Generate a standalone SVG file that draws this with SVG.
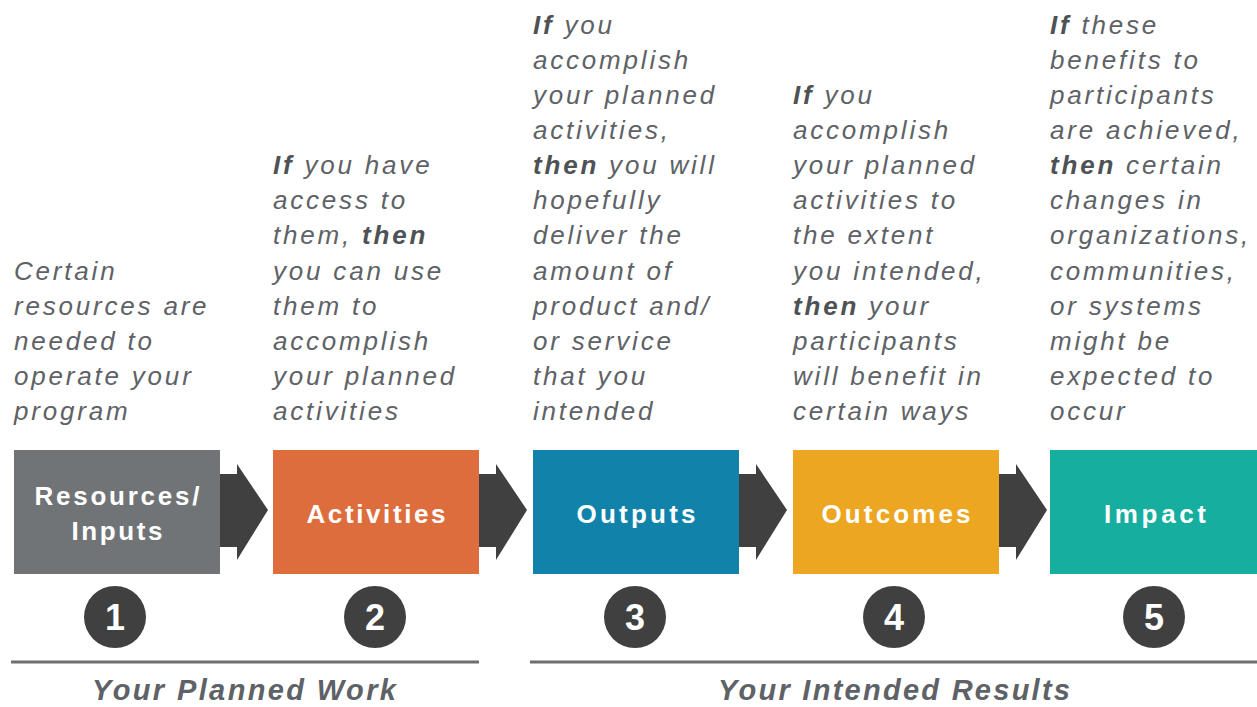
<svg xmlns="http://www.w3.org/2000/svg" width="1257" height="707" viewBox="0 0 1257 707">
<style>
.desc{font-family:"Liberation Sans",Arial,sans-serif;font-style:italic;font-size:26px;letter-spacing:2.8px;fill:#5e6266}
.b{font-weight:bold;fill:#4e5255}
.lbl{font-family:"Liberation Sans",Arial,sans-serif;font-weight:bold;font-size:26px;fill:#ffffff}
.num{font-family:"Liberation Sans",Arial,sans-serif;font-weight:bold;font-size:36px;fill:#ffffff}
.grp{font-family:"Liberation Sans",Arial,sans-serif;font-weight:bold;font-style:italic;font-size:29px;fill:#5e6266}
.circ{fill:#404040}
.arrow{fill:#404040}
.rule{stroke:#6d6e70;stroke-width:3}
</style>
<defs>
<path id="arr" d="M0,-36 H17 V-46 L48,0 L17,50 V37 H0 Z"/>
</defs>
<rect width="1257" height="707" fill="#ffffff"/>

<g id="connectors">
<use href="#arr" class="arrow" x="220" y="510"/>
<use href="#arr" class="arrow" x="479" y="510"/>
<use href="#arr" class="arrow" x="739" y="510"/>
<use href="#arr" class="arrow" x="999" y="510"/>
</g>

<g id="node1">
<rect x="14" y="450" width="206" height="124" fill="#717477"/>
<text class="lbl" text-anchor="middle" x="117" y="505" textLength="165" lengthAdjust="spacing">Resources/</text>
<text class="lbl" text-anchor="middle" x="117" y="540" textLength="91" lengthAdjust="spacing">Inputs</text>
<circle class="circ" cx="115" cy="617" r="31"/>
<text class="num" text-anchor="middle" x="115" y="630">1</text>
<text class="desc" x="14"><tspan x="14" y="280">Certain</tspan><tspan x="14" y="315">resources are</tspan><tspan x="14" y="350">needed to</tspan><tspan x="14" y="385">operate your</tspan><tspan x="14" y="420">program</tspan></text>
</g>

<g id="node2">
<rect x="273" y="450" width="206" height="124" fill="#de6d3d"/>
<text class="lbl" text-anchor="middle" x="376" y="523" textLength="139" lengthAdjust="spacing">Activities</text>
<circle class="circ" cx="375" cy="617" r="31"/>
<text class="num" text-anchor="middle" x="375" y="630">2</text>
<text class="desc"><tspan x="273" y="174"><tspan class="b">If</tspan> you have</tspan><tspan x="273" y="209">access to</tspan><tspan x="273" y="244">them, <tspan class="b">then</tspan></tspan><tspan x="273" y="280">you can use</tspan><tspan x="273" y="315">them to</tspan><tspan x="273" y="350">accomplish</tspan><tspan x="273" y="385">your planned</tspan><tspan x="273" y="420">activities</tspan></text>
</g>

<g id="node3">
<rect x="533" y="450" width="206" height="124" fill="#1183ab"/>
<text class="lbl" text-anchor="middle" x="636" y="523" textLength="119" lengthAdjust="spacing">Outputs</text>
<circle class="circ" cx="635" cy="617" r="31"/>
<text class="num" text-anchor="middle" x="635" y="630">3</text>
<text class="desc"><tspan x="533" y="34"><tspan class="b">If</tspan> you</tspan><tspan x="533" y="69">accomplish</tspan><tspan x="533" y="104">your planned</tspan><tspan x="533" y="139">activities,</tspan><tspan x="533" y="174"><tspan class="b">then</tspan> you will</tspan><tspan x="533" y="209">hopefully</tspan><tspan x="533" y="244">deliver the</tspan><tspan x="533" y="280">amount of</tspan><tspan x="533" y="315">product and/</tspan><tspan x="533" y="350">or service</tspan><tspan x="533" y="385">that you</tspan><tspan x="533" y="420">intended</tspan></text>
</g>

<g id="node4">
<rect x="793" y="450" width="206" height="124" fill="#eda621"/>
<text class="lbl" text-anchor="middle" x="896" y="523" textLength="149" lengthAdjust="spacing">Outcomes</text>
<circle class="circ" cx="894" cy="617" r="31"/>
<text class="num" text-anchor="middle" x="894" y="630">4</text>
<text class="desc"><tspan x="793" y="104"><tspan class="b">If</tspan> you</tspan><tspan x="793" y="139">accomplish</tspan><tspan x="793" y="174">your planned</tspan><tspan x="793" y="209">activities to</tspan><tspan x="793" y="244">the extent</tspan><tspan x="793" y="280">you intended,</tspan><tspan x="793" y="315"><tspan class="b">then</tspan> your</tspan><tspan x="793" y="350">participants</tspan><tspan x="793" y="385">will benefit in</tspan><tspan x="793" y="420">certain ways</tspan></text>
</g>

<g id="node5">
<rect x="1050" y="450" width="207" height="124" fill="#16ae9f"/>
<text class="lbl" text-anchor="middle" x="1155" y="523" textLength="102" lengthAdjust="spacing">Impact</text>
<circle class="circ" cx="1154" cy="617" r="31"/>
<text class="num" text-anchor="middle" x="1154" y="630">5</text>
<text class="desc"><tspan x="1050" y="34"><tspan class="b">If</tspan> these</tspan><tspan x="1050" y="69">benefits to</tspan><tspan x="1050" y="104">participants</tspan><tspan x="1050" y="139">are achieved,</tspan><tspan x="1050" y="174"><tspan class="b">then</tspan> certain</tspan><tspan x="1050" y="209">changes in</tspan><tspan x="1050" y="244">organizations,</tspan><tspan x="1050" y="280">communities,</tspan><tspan x="1050" y="315">or systems</tspan><tspan x="1050" y="350">might be</tspan><tspan x="1050" y="385">expected to</tspan><tspan x="1050" y="420">occur</tspan></text>
</g>

<g id="group-planned">
<line class="rule" x1="11" y1="662" x2="479" y2="662"/>
<text class="grp" text-anchor="middle" x="244" y="700" textLength="304" lengthAdjust="spacing">Your Planned Work</text>
</g>
<g id="group-intended">
<line class="rule" x1="530" y1="662" x2="1257" y2="662"/>
<text class="grp" text-anchor="middle" x="894" y="700" textLength="352" lengthAdjust="spacing">Your Intended Results</text>
</g>
</svg>
